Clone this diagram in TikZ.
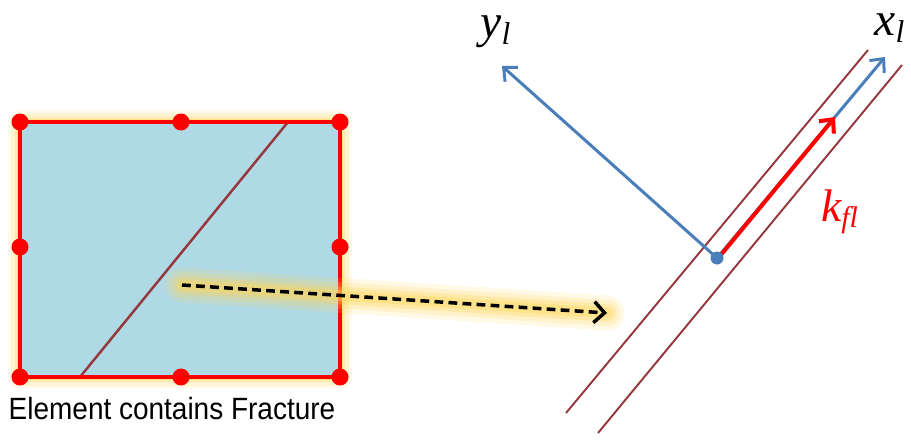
\documentclass[tikz,border=0pt]{standalone}
\usepackage{fontspec}
\setmainfont{Liberation Sans}
\newfontfamily\labfont{Liberation Serif}
\usetikzlibrary{arrows.meta,calc}
\definecolor{elemfill}{RGB}{176,217,230}
\definecolor{fraccol}{RGB}{150,55,60}
\definecolor{axiscol}{RGB}{74,126,187}
\definecolor{glowcol}{RGB}{255,214,90}
\tikzset{
  glow/.style={glowcol, line cap=round, line join=round},
  axis/.style={axiscol, line width=1.7pt, -{Straight Barb[length=6pt,width=11pt,line width=1.7pt]}},
  fracline/.style={fraccol, line width=1.1pt},
  lab/.style={font=\labfont\itshape\fontsize{27}{30}\selectfont}
}

\begin{document}
\begin{tikzpicture}[x=0.02cm,y=-0.02cm, every node/.style={inner sep=0pt}]
    \useasboundingbox (0,0) rectangle (911,439);
    % nodes of the element
    \foreach \n/\px/\py in {a/20/122,b/181/122,c/340/122,d/340/247,e/340/377,f/181/377,g/20/377,h/20/247}{
        \coordinate (\n) at (\px,\py);
    }
    \foreach \w/\o in {14/0.12,10/0.18,6/0.3,3/0.45}{\draw[glow, line width=\w pt, opacity=\o] (a) rectangle (e);}
    \fill[elemfill] (a) rectangle (e);
    \coordinate (ft) at (288,122);
    \coordinate (fb) at (80,377);
    \draw[fracline, line width=1.4pt] (ft) -- (fb);
    \draw[red, line width=2.6pt] (a) rectangle (e);
    \foreach \n in {a,...,h}{\fill[red] (\n) circle (8.5);}
    \node[font=\fontsize{17.5}{20}\selectfont] (cap) at (172,409) {\scalebox{0.91}[1]{Element contains Fracture}};
    % mapping arrow
    \coordinate (m1) at (182,285);
    \coordinate (m2) at (607,313);
    \foreach \w/\o in {20/0.15,15/0.2,10/0.3,6/0.4}{\draw[glow, line width=\w pt, opacity=\o] (m1) -- (m2);}
    \draw[line width=2pt, dash pattern=on 5pt off 3pt, -{Straight Barb[length=6pt,width=12pt,line width=2pt]}] (m1) -- (m2);
    % fracture in local frame
    \coordinate (l1) at (566,413);
    \coordinate (l2) at (868,50);
    \coordinate (r1) at (598,433);
    \coordinate (r2) at (902,65);
    \draw[fracline] (l1) -- (l2);
    \draw[fracline] (r1) -- (r2);
    \coordinate (o) at (717,258);
    \coordinate (xe) at (885,57);
    \coordinate (ye) at (502,66);
    \coordinate (ke) at (835,117);
    \draw[axis] (o) -- (xe);
    \draw[axis] (o) -- (ye);
    \draw[red, line width=2.3pt, -{Straight Barb[length=6pt,width=11pt,line width=2.3pt]}] ($(o)+(3,-2)$) -- (ke);
    \fill[axiscol] (o) circle (6.5);
    \node[lab] (yl) at (496,32) {y\textsubscript{\fontsize{18}{20}\selectfont l}};
    \node[lab] (xl) at (890,28) {x\textsubscript{\fontsize{18}{20}\selectfont l}};
    \node[lab, text=red, font=\labfont\itshape\fontsize{26}{30}\selectfont] (kfl) at (840,212) {k\textsubscript{\fontsize{17}{20}\selectfont fl}};
\end{tikzpicture}
\end{document}
